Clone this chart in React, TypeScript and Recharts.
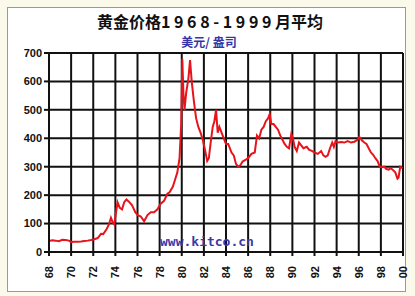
import { CartesianGrid, Line, LineChart, XAxis, YAxis } from "recharts";

// ---------------------------------------------------------------------------
// Data: monthly average gold price 1968-1999 (USD / oz)
// ---------------------------------------------------------------------------

const years = [
  1968.0, 1968.3, 1968.6, 1968.9, 1969.2, 1969.5, 1969.8, 1970.0, 1970.3, 1970.6,
  1970.9, 1971.2, 1971.5, 1971.8, 1972.1, 1972.4, 1972.7, 1972.9, 1973.2, 1973.4,
  1973.6, 1973.75, 1973.9, 1974.1, 1974.2, 1974.4, 1974.6, 1974.8, 1975.0, 1975.2,
  1975.5, 1975.8, 1976.0, 1976.3, 1976.6, 1976.9, 1977.2, 1977.5, 1977.8, 1978.1,
  1978.4, 1978.7, 1978.9, 1979.2, 1979.4, 1979.6, 1979.8, 1979.95, 1980.05, 1980.15,
  1980.25, 1980.4, 1980.6, 1980.75, 1980.9, 1981.1, 1981.3, 1981.5, 1981.7, 1981.9,
  1982.1, 1982.3, 1982.45, 1982.6, 1982.8, 1982.95, 1983.1, 1983.25, 1983.4, 1983.6,
  1983.8, 1984.0, 1984.2, 1984.5, 1984.7, 1984.9, 1985.1, 1985.3, 1985.5, 1985.8,
  1986.0, 1986.3, 1986.6, 1986.8, 1987.0, 1987.2, 1987.4, 1987.6, 1987.8, 1987.95,
  1988.1, 1988.3, 1988.5, 1988.7, 1988.9, 1989.1, 1989.3, 1989.5, 1989.7, 1989.9,
  1990.05, 1990.2, 1990.4, 1990.6, 1990.8, 1991.0, 1991.3, 1991.5, 1991.8, 1992.0,
  1992.3, 1992.6, 1992.8, 1993.0, 1993.2, 1993.4, 1993.6, 1993.75, 1993.9, 1994.1,
  1994.4, 1994.7, 1995.0, 1995.3, 1995.6, 1995.9, 1996.05, 1996.3, 1996.5, 1996.7,
  1996.9, 1997.1, 1997.3, 1997.5, 1997.7, 1997.9, 1998.1, 1998.3, 1998.5, 1998.7,
  1998.9, 1999.1, 1999.3, 1999.5, 1999.6, 1999.75, 1999.95,
];

const prices = [
  39, 41, 40, 38, 43, 42, 40, 35, 36, 36,
  37, 39, 40, 42, 45, 49, 64, 63, 80, 95,
  120, 105, 97, 150, 175, 155, 150, 175, 185, 178,
  165, 140, 130, 125, 108, 130, 140, 140, 150, 170,
  180, 205, 210, 230, 255, 280, 330, 450, 680, 560,
  500, 560, 610, 675, 600, 530, 470, 440, 420, 395,
  360, 320, 330, 380, 440, 460, 500, 420, 440, 420,
  400, 380, 380, 350, 340, 310, 300, 305, 318, 325,
  330, 345, 350, 410, 400, 430, 440, 460, 470, 485,
  450, 450, 440, 430, 410, 395, 380, 370, 365, 415,
  400, 370, 355, 385, 375, 365, 370, 360, 355, 350,
  345, 355, 340, 335, 340, 365, 385, 370, 390, 385,
  387, 385, 390, 385, 388, 395, 405, 392, 385, 380,
  365, 350, 342, 330, 320, 300, 298, 300, 292, 290,
  295, 288, 280, 258, 262, 300, 295,
];

const xTicks = [
  1968, 1970, 1972, 1974, 1976, 1978, 1980, 1982, 1984, 1986, 1988, 1990, 1992,
  1994, 1996, 1998, 2000,
];
const yTicks = [0, 100, 200, 300, 400, 500, 600, 700];

const title = "黄金价格1 9 6 8 - 1 9 9 9 月平均";
const subtitle = "美元/ 盎司";
const watermark = "www.kitco.cn";

const data = years.map((yr, i) => ({ year: yr, price: prices[i] }));

const tickFont = "'Liberation Sans Narrow', 'Liberation Sans', Arial, sans-serif";

// rotated year labels ("68" .. "00")
function YearTick(props: any) {
  const { x, y, payload } = props;
  const label = String(payload.value % 100).padStart(2, "0");
  return (
    <text
      x={0}
      y={0}
      transform={`translate(${x + 4},${y + 8}) rotate(-90)`}
      textAnchor="end"
      fontSize={11}
      fontWeight="bold"
      fontFamily={tickFont}
      fill="#111"
    >
      {label}
    </text>
  );
}

export default function App() {
  return (
    <div
      style={{
        position: "absolute",
        left: 0,
        top: 0,
        width: 415,
        height: 296,
        background: "#fbf9ea",
        overflow: "hidden",
      }}
    >
      {/* white panel */}
      <div
        style={{
          position: "absolute",
          left: 7,
          top: 7,
          width: 399,
          height: 285,
          background: "#fff",
          border: "1px solid #9a9a9a",
          boxSizing: "border-box",
        }}
      />
      <div style={{ position: "absolute", left: 0, top: 0 }}>
        <LineChart
          width={415}
          height={296}
          data={data}
          margin={{ top: 53, right: 12, left: 9, bottom: 14 }}
        >
          <CartesianGrid
            stroke="#111"
            strokeWidth={2}
            verticalValues={xTicks}
            horizontalValues={yTicks}
          />
          <XAxis
            dataKey="year"
            type="number"
            domain={[1968, 2000]}
            ticks={xTicks}
            interval={0}
            height={30}
            stroke="#111"
            strokeWidth={2}
            tickLine={{ stroke: "#111", strokeWidth: 2 }}
            tickSize={4}
            tick={<YearTick />}
          />
          <YAxis
            type="number"
            domain={[0, 700]}
            ticks={yTicks}
            interval={0}
            width={40}
            stroke="#111"
            strokeWidth={2}
            tickLine={{ stroke: "#111", strokeWidth: 2 }}
            tickSize={5}
            tick={{
              fill: "#111",
              fontSize: 11,
              fontWeight: "bold",
              fontFamily: tickFont,
            }}
          />
          <Line
            type="linear"
            dataKey="price"
            stroke="#e8141c"
            strokeWidth={2}
            dot={false}
            isAnimationActive={false}
          />
        </LineChart>
      </div>
      {/* title */}
      <div
        style={{
          position: "absolute",
          left: 0,
          top: 12,
          width: 420,
          textAlign: "center",
          fontFamily: "'Noto Sans CJK SC', sans-serif",
          fontWeight: "bold",
          fontSize: 16,
          lineHeight: "18px",
          color: "#111",
          whiteSpace: "pre",
        }}
      >
        {title}
      </div>
      <div
        style={{
          position: "absolute",
          left: 0,
          top: 35,
          width: 418,
          textAlign: "center",
          fontFamily: "'Noto Sans CJK SC', sans-serif",
          fontWeight: "bold",
          fontSize: 12,
          lineHeight: "14px",
          color: "#3535a8",
          whiteSpace: "pre",
        }}
      >
        {subtitle}
      </div>
      <div
        style={{
          position: "absolute",
          left: 160,
          top: 234,
          fontFamily: "'DejaVu Sans Mono', monospace",
          fontWeight: "bold",
          fontSize: 13,
          lineHeight: "16px",
          color: "#3a3aa6",
        }}
      >
        {watermark}
      </div>
    </div>
  );
}
